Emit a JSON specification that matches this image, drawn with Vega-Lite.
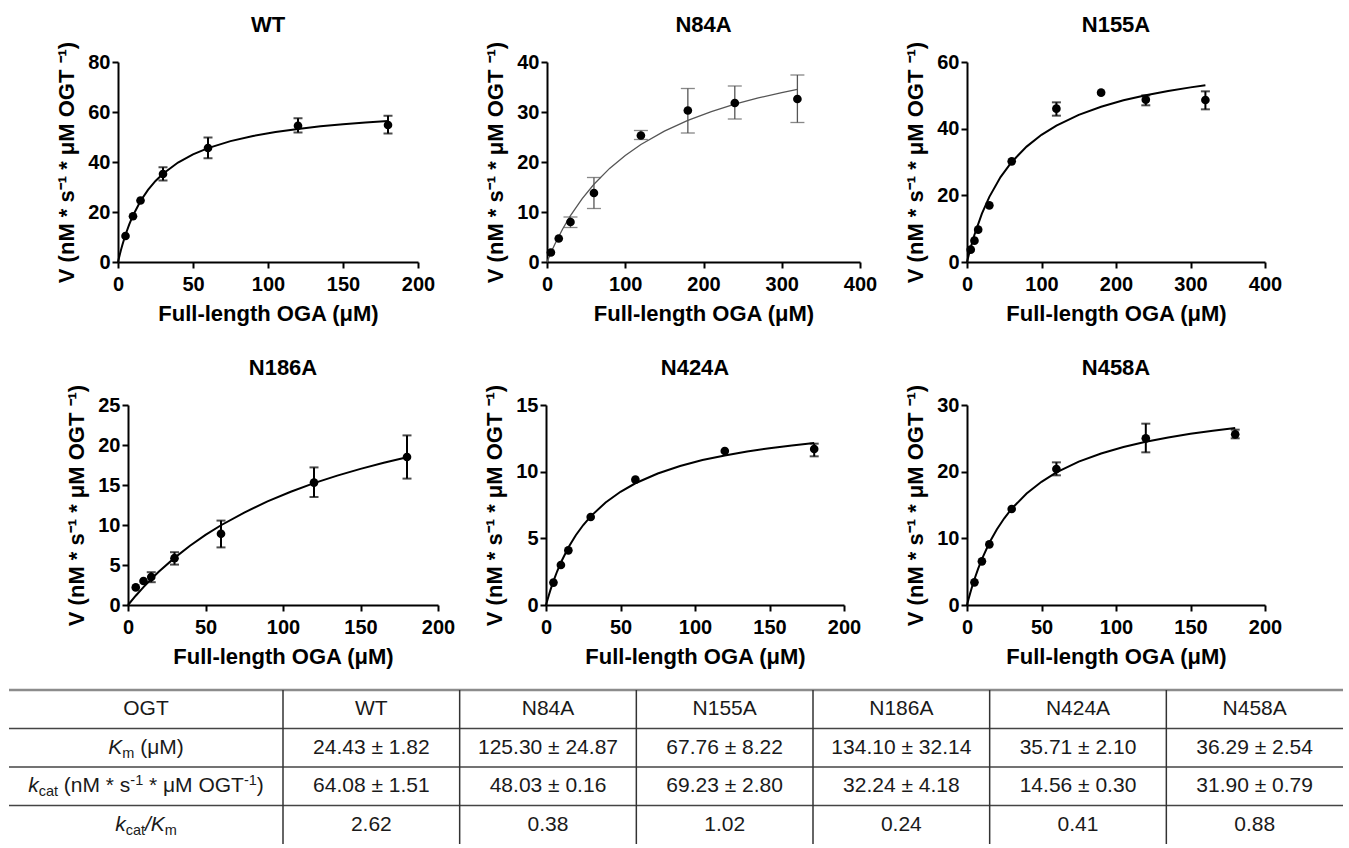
{
  "$schema": "https://vega.github.io/schema/vega-lite/v6.json",
  "padding": {"left": 7, "top": 14, "right": 0, "bottom": 0},
  "datasets": {
    "d": [
      {"p":"WT","k":"f","x":0,"v":0},{"p":"WT","k":"f","x":1,"v":2.52},{"p":"WT","k":"f","x":2,"v":4.85},{"p":"WT","k":"f","x":3,"v":7.01},{"p":"WT","k":"f","x":5,"v":10.89},{"p":"WT","k":"f","x":7.5,"v":15.05},{"p":"WT","k":"f","x":10,"v":18.61},{"p":"WT","k":"f","x":15,"v":24.38},{"p":"WT","k":"f","x":20,"v":28.85},{"p":"WT","k":"f","x":25,"v":32.41},{"p":"WT","k":"f","x":30,"v":35.32},{"p":"WT","k":"f","x":40,"v":39.78},{"p":"WT","k":"f","x":50,"v":43.05},{"p":"WT","k":"f","x":60,"v":45.54},{"p":"WT","k":"f","x":75,"v":48.34},{"p":"WT","k":"f","x":90,"v":50.4},{"p":"WT","k":"f","x":105,"v":51.99},{"p":"WT","k":"f","x":120,"v":53.24},{"p":"WT","k":"f","x":135,"v":54.26},{"p":"WT","k":"f","x":150,"v":55.1},{"p":"WT","k":"f","x":165,"v":55.82},{"p":"WT","k":"f","x":180,"v":56.42},
      {"p":"WT","k":"o","x":5,"v":10.4},{"p":"WT","k":"o","x":10,"v":18.3},{"p":"WT","k":"o","x":15,"v":24.6},{"p":"WT","k":"o","x":30,"v":35.2,"lo":32.6,"hi":37.9},{"p":"WT","k":"o","x":60,"v":45.6,"lo":41.5,"hi":49.8},{"p":"WT","k":"o","x":120,"v":54.5,"lo":51.8,"hi":57.5},{"p":"WT","k":"o","x":180,"v":54.8,"lo":51.4,"hi":58.5},
      {"p":"N84A","k":"f","x":0,"v":0},{"p":"N84A","k":"f","x":5,"v":1.84},{"p":"N84A","k":"f","x":10,"v":3.55},{"p":"N84A","k":"f","x":20,"v":6.61},{"p":"N84A","k":"f","x":30,"v":9.28},{"p":"N84A","k":"f","x":45,"v":12.69},{"p":"N84A","k":"f","x":60,"v":15.55},{"p":"N84A","k":"f","x":80,"v":18.72},{"p":"N84A","k":"f","x":100,"v":21.32},{"p":"N84A","k":"f","x":120,"v":23.5},{"p":"N84A","k":"f","x":150,"v":26.17},{"p":"N84A","k":"f","x":180,"v":28.32},{"p":"N84A","k":"f","x":210,"v":30.08},{"p":"N84A","k":"f","x":240,"v":31.56},{"p":"N84A","k":"f","x":270,"v":32.81},{"p":"N84A","k":"f","x":300,"v":33.88},{"p":"N84A","k":"f","x":320,"v":34.52},
      {"p":"N84A","k":"o","x":5,"v":1.9},{"p":"N84A","k":"o","x":15,"v":4.7},{"p":"N84A","k":"o","x":30,"v":8.0,"lo":6.9,"hi":9.0},{"p":"N84A","k":"o","x":60,"v":13.8,"lo":10.7,"hi":16.9},{"p":"N84A","k":"o","x":120,"v":25.3,"lo":24.5,"hi":26.3},{"p":"N84A","k":"o","x":180,"v":30.3,"lo":25.8,"hi":34.7},{"p":"N84A","k":"o","x":240,"v":31.8,"lo":28.6,"hi":35.2},{"p":"N84A","k":"o","x":320,"v":32.6,"lo":27.9,"hi":37.4},
      {"p":"N155A","k":"f","x":0,"v":0},{"p":"N155A","k":"f","x":2,"v":1.82},{"p":"N155A","k":"f","x":5,"v":4.36},{"p":"N155A","k":"f","x":10,"v":8.17},{"p":"N155A","k":"f","x":20,"v":14.5},{"p":"N155A","k":"f","x":30,"v":19.55},{"p":"N155A","k":"f","x":45,"v":25.47},{"p":"N155A","k":"f","x":60,"v":30.0},{"p":"N155A","k":"f","x":80,"v":34.62},{"p":"N155A","k":"f","x":100,"v":38.15},{"p":"N155A","k":"f","x":120,"v":40.93},{"p":"N155A","k":"f","x":150,"v":44.15},{"p":"N155A","k":"f","x":180,"v":46.59},{"p":"N155A","k":"f","x":210,"v":48.51},{"p":"N155A","k":"f","x":240,"v":50.05},{"p":"N155A","k":"f","x":270,"v":51.32},{"p":"N155A","k":"f","x":300,"v":52.39},{"p":"N155A","k":"f","x":320,"v":53.0},
      {"p":"N155A","k":"o","x":5,"v":3.7},{"p":"N155A","k":"o","x":10,"v":6.4},{"p":"N155A","k":"o","x":15,"v":9.7},{"p":"N155A","k":"o","x":30,"v":17.0},{"p":"N155A","k":"o","x":60,"v":30.2},{"p":"N155A","k":"o","x":120,"v":46.0,"lo":43.9,"hi":47.9},{"p":"N155A","k":"o","x":180,"v":50.8},{"p":"N155A","k":"o","x":240,"v":48.7,"lo":47.0,"hi":50.0},{"p":"N155A","k":"o","x":320,"v":48.6,"lo":45.8,"hi":51.2},
      {"p":"N186A","k":"f","x":0,"v":0},{"p":"N186A","k":"f","x":5,"v":1.16},{"p":"N186A","k":"f","x":10,"v":2.24},{"p":"N186A","k":"f","x":15,"v":3.24},{"p":"N186A","k":"f","x":20,"v":4.18},{"p":"N186A","k":"f","x":30,"v":5.89},{"p":"N186A","k":"f","x":40,"v":7.41},{"p":"N186A","k":"f","x":50,"v":8.76},{"p":"N186A","k":"f","x":60,"v":9.97},{"p":"N186A","k":"f","x":75,"v":11.56},{"p":"N186A","k":"f","x":90,"v":12.95},{"p":"N186A","k":"f","x":105,"v":14.16},{"p":"N186A","k":"f","x":120,"v":15.23},{"p":"N186A","k":"f","x":135,"v":16.17},{"p":"N186A","k":"f","x":150,"v":17.02},{"p":"N186A","k":"f","x":165,"v":17.79},{"p":"N186A","k":"f","x":180,"v":18.48},
      {"p":"N186A","k":"o","x":5,"v":2.2},{"p":"N186A","k":"o","x":10,"v":3.0},{"p":"N186A","k":"o","x":15,"v":3.5,"lo":2.85,"hi":4.1},{"p":"N186A","k":"o","x":30,"v":5.85,"lo":5.05,"hi":6.6},{"p":"N186A","k":"o","x":60,"v":8.9,"lo":7.2,"hi":10.55},{"p":"N186A","k":"o","x":120,"v":15.3,"lo":13.5,"hi":17.2},{"p":"N186A","k":"o","x":180,"v":18.5,"lo":15.8,"hi":21.2},
      {"p":"N424A","k":"f","x":0,"v":0},{"p":"N424A","k":"f","x":1,"v":0.4},{"p":"N424A","k":"f","x":2,"v":0.77},{"p":"N424A","k":"f","x":3,"v":1.13},{"p":"N424A","k":"f","x":5,"v":1.79},{"p":"N424A","k":"f","x":7.5,"v":2.53},{"p":"N424A","k":"f","x":10,"v":3.19},{"p":"N424A","k":"f","x":15,"v":4.31},{"p":"N424A","k":"f","x":20,"v":5.23},{"p":"N424A","k":"f","x":25,"v":6.0},{"p":"N424A","k":"f","x":30,"v":6.65},{"p":"N424A","k":"f","x":40,"v":7.69},{"p":"N424A","k":"f","x":50,"v":8.49},{"p":"N424A","k":"f","x":60,"v":9.13},{"p":"N424A","k":"f","x":75,"v":9.86},{"p":"N424A","k":"f","x":90,"v":10.42},{"p":"N424A","k":"f","x":105,"v":10.87},{"p":"N424A","k":"f","x":120,"v":11.22},{"p":"N424A","k":"f","x":135,"v":11.51},{"p":"N424A","k":"f","x":150,"v":11.76},{"p":"N424A","k":"f","x":165,"v":11.97},{"p":"N424A","k":"f","x":180,"v":12.15},
      {"p":"N424A","k":"o","x":5,"v":1.68},{"p":"N424A","k":"o","x":10,"v":3.0},{"p":"N424A","k":"o","x":15,"v":4.1},{"p":"N424A","k":"o","x":30,"v":6.6},{"p":"N424A","k":"o","x":60,"v":9.4},{"p":"N424A","k":"o","x":120,"v":11.55},{"p":"N424A","k":"o","x":180,"v":11.7,"lo":11.15,"hi":12.1},
      {"p":"N458A","k":"f","x":0,"v":0},{"p":"N458A","k":"f","x":1,"v":0.86},{"p":"N458A","k":"f","x":2,"v":1.67},{"p":"N458A","k":"f","x":3,"v":2.44},{"p":"N458A","k":"f","x":5,"v":3.86},{"p":"N458A","k":"f","x":7.5,"v":5.46},{"p":"N458A","k":"f","x":10,"v":6.89},{"p":"N458A","k":"f","x":15,"v":9.33},{"p":"N458A","k":"f","x":20,"v":11.33},{"p":"N458A","k":"f","x":25,"v":13.01},{"p":"N458A","k":"f","x":30,"v":14.44},{"p":"N458A","k":"f","x":40,"v":16.73},{"p":"N458A","k":"f","x":50,"v":18.48},{"p":"N458A","k":"f","x":60,"v":19.88},{"p":"N458A","k":"f","x":75,"v":21.5},{"p":"N458A","k":"f","x":90,"v":22.73},{"p":"N458A","k":"f","x":105,"v":23.71},{"p":"N458A","k":"f","x":120,"v":24.49},{"p":"N458A","k":"f","x":135,"v":25.14},{"p":"N458A","k":"f","x":150,"v":25.69},{"p":"N458A","k":"f","x":165,"v":26.15},{"p":"N458A","k":"f","x":180,"v":26.55},
      {"p":"N458A","k":"o","x":5,"v":3.4},{"p":"N458A","k":"o","x":10,"v":6.55},{"p":"N458A","k":"o","x":15,"v":9.1},{"p":"N458A","k":"o","x":30,"v":14.4},{"p":"N458A","k":"o","x":60,"v":20.4,"lo":19.45,"hi":21.4},{"p":"N458A","k":"o","x":120,"v":25.0,"lo":22.9,"hi":27.2},{"p":"N458A","k":"o","x":180,"v":25.6,"lo":25.0,"hi":26.3}
    ],
    "tab": [
      {"row":0,"col":1,"t":"WT"},{"row":0,"col":2,"t":"N84A"},{"row":0,"col":3,"t":"N155A"},{"row":0,"col":4,"t":"N186A"},{"row":0,"col":5,"t":"N424A"},{"row":0,"col":6,"t":"N458A"},
      {"row":1,"col":1,"t":"24.43 ± 1.82"},{"row":1,"col":2,"t":"125.30 ± 24.87"},{"row":1,"col":3,"t":"67.76 ± 8.22"},{"row":1,"col":4,"t":"134.10 ± 32.14"},{"row":1,"col":5,"t":"35.71 ± 2.10"},{"row":1,"col":6,"t":"36.29 ± 2.54"},
      {"row":2,"col":1,"t":"64.08 ± 1.51"},{"row":2,"col":2,"t":"48.03 ± 0.16"},{"row":2,"col":3,"t":"69.23 ± 2.80"},{"row":2,"col":4,"t":"32.24 ± 4.18"},{"row":2,"col":5,"t":"14.56 ± 0.30"},{"row":2,"col":6,"t":"31.90 ± 0.79"},
      {"row":3,"col":1,"t":"2.62"},{"row":3,"col":2,"t":"0.38"},{"row":3,"col":3,"t":"1.02"},{"row":3,"col":4,"t":"0.24"},{"row":3,"col":5,"t":"0.41"},{"row":3,"col":6,"t":"0.88"}
    ],
    "lbl": [
      {"row":0,"col":0,"id":"h","t":"OGT"},
      {"row":1,"col":0,"id":"a1","t":"K"},{"row":1,"col":0,"id":"a2","t":"m"},{"row":1,"col":0,"id":"a3","t":"(μM)"},
      {"row":2,"col":0,"id":"b1","t":"k"},{"row":2,"col":0,"id":"b2","t":"cat"},{"row":2,"col":0,"id":"b3","t":"(nM * s"},{"row":2,"col":0,"id":"b4","t":"-1"},{"row":2,"col":0,"id":"b5","t":"* μM OGT"},{"row":2,"col":0,"id":"b6","t":"-1"},{"row":2,"col":0,"id":"b7","t":")"},
      {"row":3,"col":0,"id":"c1","t":"k"},{"row":3,"col":0,"id":"c2","t":"cat"},{"row":3,"col":0,"id":"c3","t":"/K"},{"row":3,"col":0,"id":"c4","t":"m"}
    ]
  },
  "bounds": "flush",
  "spacing": 0,
  "vconcat": [
    {
      "bounds": "flush", "spacing": 0,
      "hconcat": [
        {"width": 109, "height": 1, "data": {"values": []}, "mark": "point"},
        {
          "width": 300, "height": 200, "title": "WT",
          "data": {"name": "d"}, "transform": [{"filter": "datum.p === 'WT'"}],
          "encoding": {
            "x": {"field": "x", "type": "quantitative", "scale": {"domain": [0, 200], "nice": false, "zero": false}, "axis": {"values": [0, 50, 100, 150, 200], "title": "Full-length OGA (μM)"}},
            "y": {"field": "v", "type": "quantitative", "scale": {"domain": [0, 80], "nice": false}, "axis": {"values": [0, 20, 40, 60, 80], "title": "V (nM * s⁻¹ * μM OGT ⁻¹)"}}
          },
          "layer": [
            {"transform": [{"filter": "datum.k === 'f'"}], "mark": {"type": "line", "color": "black", "strokeWidth": 2}},
            {"transform": [{"filter": "datum.k === 'o' && datum.lo != null"}], "mark": {"type": "errorbar", "ticks": true, "color": "black", "thickness": 2, "size": 9},
             "encoding": {"y": {"field": "lo", "type": "quantitative", "scale": {"domain": [0, 80], "nice": false}, "axis": {"values": [0, 20, 40, 60, 80], "title": "V (nM * s⁻¹ * μM OGT ⁻¹)"}}, "y2": {"field": "hi"}}},
            {"transform": [{"filter": "datum.k === 'o'"}], "mark": {"type": "point", "filled": true, "color": "black", "opacity": 1, "size": 75}}
          ]
        },
        {"width": 129, "height": 1, "data": {"values": []}, "mark": "point"},
        {
          "width": 313, "height": 200, "title": "N84A",
          "data": {"name": "d"}, "transform": [{"filter": "datum.p === 'N84A'"}],
          "encoding": {
            "x": {"field": "x", "type": "quantitative", "scale": {"domain": [0, 400], "nice": false, "zero": false}, "axis": {"values": [0, 100, 200, 300, 400], "title": "Full-length OGA  (μM)"}},
            "y": {"field": "v", "type": "quantitative", "scale": {"domain": [0, 40], "nice": false}, "axis": {"values": [0, 10, 20, 30, 40], "title": "V (nM * s⁻¹ * μM OGT ⁻¹)"}}
          },
          "layer": [
            {"transform": [{"filter": "datum.k === 'f'"}], "mark": {"type": "line", "color": "#555555", "strokeWidth": 1.3}},
            {"transform": [{"filter": "datum.k === 'o' && datum.lo != null"}], "mark": {"type": "errorbar", "ticks": true, "color": "#555555", "thickness": 1.3, "size": 14},
             "encoding": {"y": {"field": "lo", "type": "quantitative", "scale": {"domain": [0, 40], "nice": false}, "axis": {"values": [0, 10, 20, 30, 40], "title": "V (nM * s⁻¹ * μM OGT ⁻¹)"}}, "y2": {"field": "hi"}}},
            {"transform": [{"filter": "datum.k === 'o'"}], "mark": {"type": "point", "filled": true, "color": "black", "opacity": 1, "size": 75}}
          ]
        },
        {"width": 107, "height": 1, "data": {"values": []}, "mark": "point"},
        {
          "width": 298, "height": 200, "title": "N155A",
          "data": {"name": "d"}, "transform": [{"filter": "datum.p === 'N155A'"}],
          "encoding": {
            "x": {"field": "x", "type": "quantitative", "scale": {"domain": [0, 400], "nice": false, "zero": false}, "axis": {"values": [0, 100, 200, 300, 400], "title": "Full-length OGA (μM)"}},
            "y": {"field": "v", "type": "quantitative", "scale": {"domain": [0, 60], "nice": false}, "axis": {"values": [0, 20, 40, 60], "title": "V (nM * s⁻¹ * μM OGT ⁻¹)"}}
          },
          "layer": [
            {"transform": [{"filter": "datum.k === 'f'"}], "mark": {"type": "line", "color": "black", "strokeWidth": 2}},
            {"transform": [{"filter": "datum.k === 'o' && datum.lo != null"}], "mark": {"type": "errorbar", "ticks": true, "color": "black", "thickness": 2, "size": 9},
             "encoding": {"y": {"field": "lo", "type": "quantitative", "scale": {"domain": [0, 60], "nice": false}, "axis": {"values": [0, 20, 40, 60], "title": "V (nM * s⁻¹ * μM OGT ⁻¹)"}}, "y2": {"field": "hi"}}},
            {"transform": [{"filter": "datum.k === 'o'"}], "mark": {"type": "point", "filled": true, "color": "black", "opacity": 1, "size": 75}}
          ]
        }
      ]
    },
    {"width": 1, "height": 343, "data": {"values": []}, "mark": "point"},
    {
      "bounds": "flush", "spacing": 0,
      "hconcat": [
        {"width": 119, "height": 1, "data": {"values": []}, "mark": "point"},
        {
          "width": 310, "height": 200, "title": "N186A",
          "data": {"name": "d"}, "transform": [{"filter": "datum.p === 'N186A'"}],
          "encoding": {
            "x": {"field": "x", "type": "quantitative", "scale": {"domain": [0, 200], "nice": false, "zero": false}, "axis": {"values": [0, 50, 100, 150, 200], "title": "Full-length OGA (μM)"}},
            "y": {"field": "v", "type": "quantitative", "scale": {"domain": [0, 25], "nice": false}, "axis": {"values": [0, 5, 10, 15, 20, 25], "title": "V (nM * s⁻¹ * μM OGT ⁻¹)"}}
          },
          "layer": [
            {"transform": [{"filter": "datum.k === 'f'"}], "mark": {"type": "line", "color": "black", "strokeWidth": 2}},
            {"transform": [{"filter": "datum.k === 'o' && datum.lo != null"}], "mark": {"type": "errorbar", "ticks": true, "color": "black", "thickness": 2, "size": 9},
             "encoding": {"y": {"field": "lo", "type": "quantitative", "scale": {"domain": [0, 25], "nice": false}, "axis": {"values": [0, 5, 10, 15, 20, 25], "title": "V (nM * s⁻¹ * μM OGT ⁻¹)"}}, "y2": {"field": "hi"}}},
            {"transform": [{"filter": "datum.k === 'o'"}], "mark": {"type": "point", "filled": true, "color": "black", "opacity": 1, "size": 75}}
          ]
        },
        {"width": 108, "height": 1, "data": {"values": []}, "mark": "point"},
        {
          "width": 298, "height": 200, "title": "N424A",
          "data": {"name": "d"}, "transform": [{"filter": "datum.p === 'N424A'"}],
          "encoding": {
            "x": {"field": "x", "type": "quantitative", "scale": {"domain": [0, 200], "nice": false, "zero": false}, "axis": {"values": [0, 50, 100, 150, 200], "title": "Full-length OGA (μM)"}},
            "y": {"field": "v", "type": "quantitative", "scale": {"domain": [0, 15], "nice": false}, "axis": {"values": [0, 5, 10, 15], "title": "V (nM * s⁻¹ * μM OGT ⁻¹)"}}
          },
          "layer": [
            {"transform": [{"filter": "datum.k === 'f'"}], "mark": {"type": "line", "color": "black", "strokeWidth": 2}},
            {"transform": [{"filter": "datum.k === 'o' && datum.lo != null"}], "mark": {"type": "errorbar", "ticks": true, "color": "black", "thickness": 2, "size": 9},
             "encoding": {"y": {"field": "lo", "type": "quantitative", "scale": {"domain": [0, 15], "nice": false}, "axis": {"values": [0, 5, 10, 15], "title": "V (nM * s⁻¹ * μM OGT ⁻¹)"}}, "y2": {"field": "hi"}}},
            {"transform": [{"filter": "datum.k === 'o'"}], "mark": {"type": "point", "filled": true, "color": "black", "opacity": 1, "size": 75}}
          ]
        },
        {"width": 123, "height": 1, "data": {"values": []}, "mark": "point"},
        {
          "width": 298, "height": 200, "title": "N458A",
          "data": {"name": "d"}, "transform": [{"filter": "datum.p === 'N458A'"}],
          "encoding": {
            "x": {"field": "x", "type": "quantitative", "scale": {"domain": [0, 200], "nice": false, "zero": false}, "axis": {"values": [0, 50, 100, 150, 200], "title": "Full-length OGA (μM)"}},
            "y": {"field": "v", "type": "quantitative", "scale": {"domain": [0, 30], "nice": false}, "axis": {"values": [0, 10, 20, 30], "title": "V (nM * s⁻¹ * μM OGT ⁻¹)"}}
          },
          "layer": [
            {"transform": [{"filter": "datum.k === 'f'"}], "mark": {"type": "line", "color": "black", "strokeWidth": 2}},
            {"transform": [{"filter": "datum.k === 'o' && datum.lo != null"}], "mark": {"type": "errorbar", "ticks": true, "color": "black", "thickness": 2, "size": 9},
             "encoding": {"y": {"field": "lo", "type": "quantitative", "scale": {"domain": [0, 30], "nice": false}, "axis": {"values": [0, 10, 20, 30], "title": "V (nM * s⁻¹ * μM OGT ⁻¹)"}}, "y2": {"field": "hi"}}},
            {"transform": [{"filter": "datum.k === 'o'"}], "mark": {"type": "point", "filled": true, "color": "black", "opacity": 1, "size": 75}}
          ]
        }
      ]
    },
    {"width": 1, "height": 285, "data": {"values": []}, "mark": "point"},
    {
      "bounds": "flush", "spacing": 0,
      "hconcat": [
        {
          "width": 274, "height": 154,
          "layer": [
            {"data": {"name": "tab"}, "transform": [{"filter": "datum.col === 1 && datum.row > 0"}], "mark": {"type": "rule", "color": "#444444", "strokeWidth": 1.5},
             "encoding": {"y": {"field": "row", "type": "ordinal", "bandPosition": 0, "scale": {"domain": [0, 1, 2, 3], "paddingInner": 0, "paddingOuter": 0}, "axis": null}}},
            {"data": {"name": "tab"}, "transform": [{"filter": "datum.col === 1 && datum.row === 0"}], "mark": {"type": "rule", "color": "#8c8c8c", "strokeWidth": 2.5},
             "encoding": {"y": {"field": "row", "type": "ordinal", "bandPosition": 0, "scale": {"domain": [0, 1, 2, 3], "paddingInner": 0, "paddingOuter": 0}, "axis": null}}},
            {
              "data": {"name": "lbl"},
              "encoding": {
                "x": {"field": "col", "type": "nominal", "scale": {"paddingInner": 0, "paddingOuter": 0}, "axis": null},
                "y": {"field": "row", "type": "ordinal", "scale": {"domain": [0, 1, 2, 3], "paddingInner": 0, "paddingOuter": 0}, "axis": null},
                "text": {"field": "t"}
              },
              "layer": [
                {"transform": [{"filter": "datum.id === 'h'"}], "mark": {"type": "text", "font": "Liberation Sans", "fontSize": 21, "color": "#1a1a1a", "align": "center"}},
                {"transform": [{"filter": "datum.id === 'a1'"}], "mark": {"type": "text", "font": "Liberation Sans", "fontSize": 21, "fontStyle": "italic", "color": "#1a1a1a", "align": "left", "dx": -37.7}},
                {"transform": [{"filter": "datum.id === 'a2'"}], "mark": {"type": "text", "font": "Liberation Sans", "fontSize": 14.5, "color": "#1a1a1a", "align": "left", "dx": -23.7, "dy": 6}},
                {"transform": [{"filter": "datum.id === 'a3'"}], "mark": {"type": "text", "font": "Liberation Sans", "fontSize": 21, "color": "#1a1a1a", "align": "left", "dx": -5.8}},
                {"transform": [{"filter": "datum.id === 'b1'"}], "mark": {"type": "text", "font": "Liberation Sans", "fontSize": 21, "fontStyle": "italic", "color": "#1a1a1a", "align": "left", "dx": -117.8}},
                {"transform": [{"filter": "datum.id === 'b2'"}], "mark": {"type": "text", "font": "Liberation Sans", "fontSize": 14.5, "color": "#1a1a1a", "align": "left", "dx": -107.3, "dy": 6}},
                {"transform": [{"filter": "datum.id === 'b3'"}], "mark": {"type": "text", "font": "Liberation Sans", "fontSize": 21, "color": "#1a1a1a", "align": "left", "dx": -82.2}},
                {"transform": [{"filter": "datum.id === 'b4'"}], "mark": {"type": "text", "font": "Liberation Sans", "fontSize": 14.5, "color": "#1a1a1a", "align": "left", "dx": -15.7, "dy": -5}},
                {"transform": [{"filter": "datum.id === 'b5'"}], "mark": {"type": "text", "font": "Liberation Sans", "fontSize": 21, "color": "#1a1a1a", "align": "left", "dx": 3.0}},
                {"transform": [{"filter": "datum.id === 'b6'"}], "mark": {"type": "text", "font": "Liberation Sans", "fontSize": 14.5, "color": "#1a1a1a", "align": "left", "dx": 97.9, "dy": -5}},
                {"transform": [{"filter": "datum.id === 'b7'"}], "mark": {"type": "text", "font": "Liberation Sans", "fontSize": 21, "color": "#1a1a1a", "align": "left", "dx": 110.8}},
                {"transform": [{"filter": "datum.id === 'c1'"}], "mark": {"type": "text", "font": "Liberation Sans", "fontSize": 21, "fontStyle": "italic", "color": "#1a1a1a", "align": "left", "dx": -30.8}},
                {"transform": [{"filter": "datum.id === 'c2'"}], "mark": {"type": "text", "font": "Liberation Sans", "fontSize": 14.5, "color": "#1a1a1a", "align": "left", "dx": -20.3, "dy": 6}},
                {"transform": [{"filter": "datum.id === 'c3'"}], "mark": {"type": "text", "font": "Liberation Sans", "fontSize": 21, "fontStyle": "italic", "color": "#1a1a1a", "align": "left", "dx": -1.0}},
                {"transform": [{"filter": "datum.id === 'c4'"}], "mark": {"type": "text", "font": "Liberation Sans", "fontSize": 14.5, "color": "#1a1a1a", "align": "left", "dx": 18.7, "dy": 6}}
              ]
            }
          ]
        },
        {
          "width": 1060, "height": 154,
          "data": {"name": "tab"},
          "layer": [
            {"transform": [{"filter": "datum.col === 1 && datum.row > 0"}], "mark": {"type": "rule", "color": "#444444", "strokeWidth": 1.5},
             "encoding": {"y": {"field": "row", "type": "ordinal", "bandPosition": 0, "scale": {"domain": [0, 1, 2, 3], "paddingInner": 0, "paddingOuter": 0}, "axis": null}}},
            {"transform": [{"filter": "datum.col === 1 && datum.row === 0"}], "mark": {"type": "rule", "color": "#8c8c8c", "strokeWidth": 2.5},
             "encoding": {"y": {"field": "row", "type": "ordinal", "bandPosition": 0, "scale": {"domain": [0, 1, 2, 3], "paddingInner": 0, "paddingOuter": 0}, "axis": null}}},
            {"transform": [{"filter": "datum.row === 0"}], "mark": {"type": "rule", "color": "#333333", "strokeWidth": 1.5},
             "encoding": {"x": {"field": "col", "type": "ordinal", "bandPosition": 0, "scale": {"domain": [1, 2, 3, 4, 5, 6], "paddingInner": 0, "paddingOuter": 0}, "axis": null}}},
            {"mark": {"type": "text", "font": "Liberation Sans", "fontSize": 21, "color": "#1a1a1a"},
             "encoding": {
               "x": {"field": "col", "type": "ordinal", "scale": {"domain": [1, 2, 3, 4, 5, 6], "paddingInner": 0, "paddingOuter": 0}, "axis": null},
               "y": {"field": "row", "type": "ordinal", "scale": {"domain": [0, 1, 2, 3], "paddingInner": 0, "paddingOuter": 0}, "axis": null},
               "text": {"field": "t"}
             }}
          ]
        }
      ]
    }
  ],
  "config": {
    "view": {"stroke": null},
    "font": "Liberation Sans",
    "axis": {"domainColor": "black", "domainWidth": 2, "tickColor": "black", "tickWidth": 2, "tickSize": 6, "labelFont": "Liberation Sans", "labelFontSize": 20, "labelFontWeight": "bold", "labelColor": "black", "titleFont": "Liberation Sans", "titleFontSize": 22, "titleFontWeight": "bold", "titleColor": "black", "grid": false, "labelFlush": false, "labelOverlap": false, "labelBound": false},
    "axisX": {"labelPadding": 6, "titlePadding": 9},
    "axisY": {"labelPadding": 2, "titlePadding": 9},
    "title": {"font": "Liberation Sans", "fontSize": 22, "fontWeight": "bold", "color": "black", "anchor": "middle", "frame": "group", "baseline": "alphabetic", "offset": 4}
  }
}
